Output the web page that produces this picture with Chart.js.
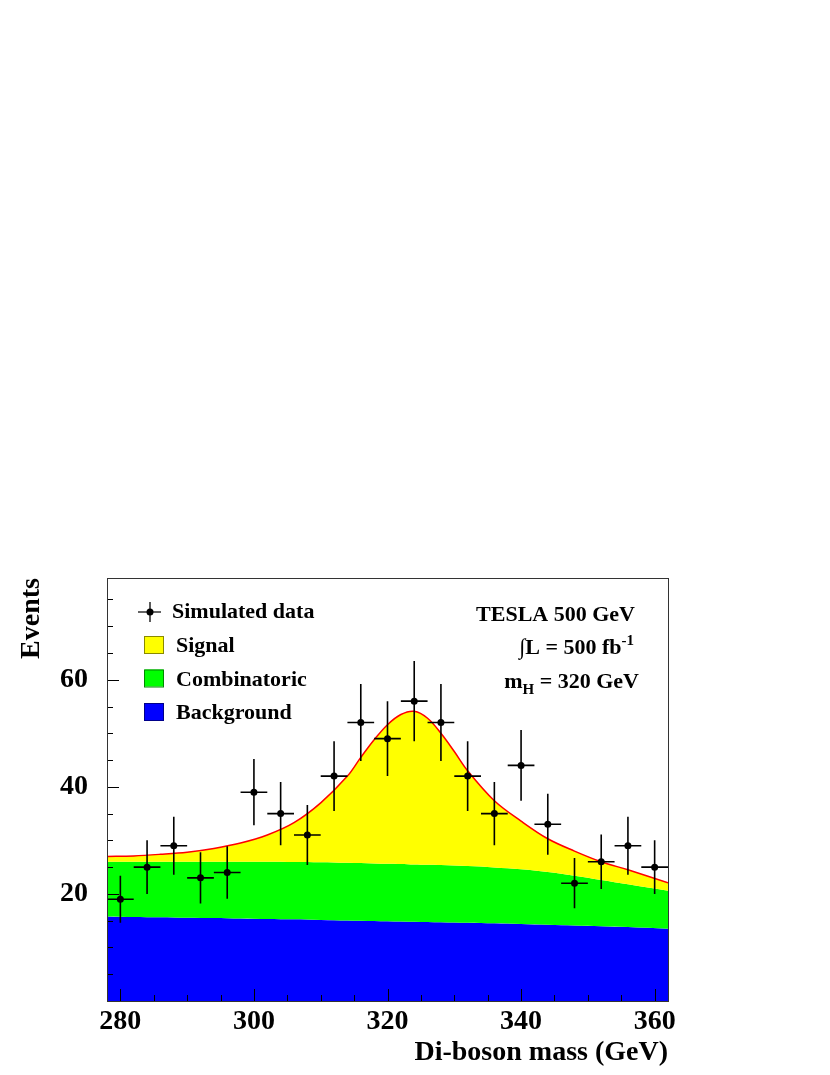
<!DOCTYPE html>
<html>
<head>
<meta charset="utf-8">
<script src="https://cdn.jsdelivr.net/npm/chart.js@4.4.1/dist/chart.umd.min.js"></script>
<style>
  html, body { margin: 0; padding: 0; background: #fff; }
  #wrap { position: relative; width: 830px; height: 1075px; }
</style>
</head>
<body>
<div id="wrap"><canvas id="chart"></canvas></div>
<script>
// curve grid (GeV) and stacked heights
const massGrid        = [278, 282, 286, 290, 294, 298, 302, 306, 310, 314, 316, 318, 320, 322, 324, 326, 328, 330, 332, 336, 340, 344, 348, 352, 356, 362];
const backgroundTop   = [15.8, 15.7, 15.65, 15.55, 15.5, 15.4, 15.3, 15.25, 15.15, 15.05, 15.0, 14.95, 14.9, 14.85, 14.8, 14.75, 14.7, 14.65, 14.6, 14.5, 14.4, 14.25, 14.1, 13.95, 13.8, 13.5];
const combinatoricTop = [26.0, 26.0, 26.0, 26.0, 26.0, 26.0, 26.0, 25.95, 25.9, 25.8, 25.75, 25.7, 25.65, 25.6, 25.5, 25.45, 25.4, 25.3, 25.2, 24.95, 24.6, 24.1, 23.4, 22.6, 21.8, 20.6];
const signalTop       = [27.0, 27.1, 27.4, 27.8, 28.5, 29.5, 31.0, 33.3, 37.0, 42.0, 45.5, 48.8, 51.6, 53.5, 54.1, 52.8, 50.0, 46.6, 43.0, 37.4, 33.6, 30.3, 28.0, 26.0, 24.5, 22.1];

// simulated data
const binCenters  = [280, 284, 288, 292, 296, 300, 304, 308, 312, 316, 320, 324, 328, 332, 336, 340, 344, 348, 352, 356, 360];
const eventCounts = [19, 25, 29, 23, 24, 39, 35, 31, 42, 52, 49, 56, 52, 42, 35, 44, 33, 22, 26, 29, 25];
const eventErrors = [4.4, 5.0, 5.4, 4.8, 4.9, 6.2, 5.9, 5.6, 6.5, 7.2, 7.0, 7.5, 7.2, 6.5, 5.9, 6.6, 5.7, 4.7, 5.1, 5.4, 5.0];
const binHalfWidth = 2;

const xTicks = [280, 300, 320, 340, 360];
const yTicks = [20, 40, 60];

const serif = '"Liberation Serif", "Times New Roman", serif';

const curve = (vals) => massGrid.map((m, i) => ({ x: m, y: vals[i] }));

const rootStyle = {
  id: 'rootStyle',
  beforeDatasetDraw(chart, args) {
    if (args.index !== 3) return;
    const ctx = chart.ctx, xs = chart.scales.x, ys = chart.scales.y;
    ctx.save();
    ctx.strokeStyle = '#000';
    ctx.lineWidth = 1.6;
    binCenters.forEach((m, i) => {
      const px = xs.getPixelForValue(m);
      const py = ys.getPixelForValue(eventCounts[i]);
      ctx.beginPath();
      ctx.moveTo(xs.getPixelForValue(m - binHalfWidth), py);
      ctx.lineTo(xs.getPixelForValue(m + binHalfWidth), py);
      ctx.moveTo(px, ys.getPixelForValue(eventCounts[i] + eventErrors[i]));
      ctx.lineTo(px, ys.getPixelForValue(eventCounts[i] - eventErrors[i]));
      ctx.stroke();
    });
    ctx.restore();
  },
  afterDraw(chart) {
    const ctx = chart.ctx, xs = chart.scales.x, ys = chart.scales.y;
    const a = chart.chartArea;
    ctx.save();
    // ticks (inside the frame)
    ctx.strokeStyle = '#000';
    ctx.lineWidth = 1;
    ctx.beginPath();
    for (let v = 5; v < ys.max; v += 5) {
      const py = Math.round(ys.getPixelForValue(v)) + 0.5;
      const len = yTicks.includes(v) ? 12 : 6;
      ctx.moveTo(a.left, py);
      ctx.lineTo(a.left + len, py);
    }
    for (let v = xTicks[0]; v <= xs.max; v += 5) {
      const px = Math.round(xs.getPixelForValue(v)) + 0.5;
      const len = xTicks.includes(v) ? 12 : 6;
      ctx.moveTo(px, a.bottom);
      ctx.lineTo(px, a.bottom - len);
    }
    ctx.stroke();
    // frame
    ctx.strokeStyle = '#333';
    ctx.strokeRect(Math.round(a.left) + 0.5, Math.round(a.top) + 0.5, Math.round(a.right - a.left), Math.round(a.bottom - a.top));

    // axis titles
    ctx.fillStyle = '#000';
    ctx.font = 'bold 28px ' + serif;
    ctx.textAlign = 'right';
    ctx.textBaseline = 'alphabetic';
    ctx.fillText('Di-boson mass (GeV)', a.right, 1060);
    ctx.save();
    ctx.translate(39, a.top);
    ctx.rotate(-Math.PI / 2);
    ctx.fillText('Events', 0, 0);
    ctx.restore();

    // legend
    ctx.font = 'bold 22px ' + serif;
    ctx.textAlign = 'left';
    ctx.lineWidth = 1.6;
    ctx.beginPath();
    ctx.moveTo(138, 612); ctx.lineTo(161, 612);
    ctx.moveTo(150, 602); ctx.lineTo(150, 622);
    ctx.stroke();
    ctx.beginPath();
    ctx.arc(150, 612, 3.5, 0, Math.PI * 2);
    ctx.fill();
    ctx.fillText('Simulated data', 172, 618);
    const swatches = [
      ['Signal', '#ffff00', '#8a8a00'],
      ['Combinatoric', '#00ff00', '#008a00'],
      ['Background', '#0000ff', '#00008a']
    ];
    swatches.forEach(([label, fill, edge], i) => {
      const y = 636 + i * 33.5;
      ctx.fillStyle = fill;
      ctx.fillRect(144.5, y, 19, 17);
      ctx.strokeStyle = edge;
      ctx.lineWidth = 1;
      ctx.strokeRect(144.5, y + 0.5, 19, 17);
      ctx.fillStyle = '#000';
      ctx.fillText(label, 176, y + 16);
    });

    // run info
    ctx.textAlign = 'right';
    ctx.fillText('TESLA 500 GeV', 635, 621);
    ctx.font = 'bold 15px ' + serif;
    const supW = ctx.measureText('-1').width;
    ctx.fillText('-1', 634, 645);
    ctx.font = 'bold 22px ' + serif;
    ctx.fillText('\u222BL = 500 fb', 634 - supW, 654);
    ctx.fillText(' = 320 GeV', 639, 688);
    const restW = ctx.measureText(' = 320 GeV').width;
    ctx.font = 'bold 15px ' + serif;
    const subW = ctx.measureText('H').width;
    ctx.fillText('H', 639 - restW, 694);
    ctx.font = 'bold 22px ' + serif;
    ctx.fillText('m', 639 - restW - subW, 688);
    ctx.restore();
  }
};

new Chart(document.getElementById('chart'), {
  type: 'line',
  data: {
    datasets: [
      { label: 'Background', order: 3, data: curve(backgroundTop), fill: 'origin', backgroundColor: '#0000ff', borderWidth: 0, pointRadius: 0, tension: 0.35 },
      { label: 'Combinatoric', order: 2, data: curve(combinatoricTop), fill: '-1', backgroundColor: '#00ff00', borderWidth: 0, pointRadius: 0, tension: 0.35 },
      { label: 'Signal', order: 1, data: curve(signalTop), fill: '-1', backgroundColor: '#ffff00', borderColor: '#ff0000', borderWidth: 1.5, pointRadius: 0, tension: 0.35 },
      { label: 'Simulated data', order: 0, type: 'scatter', data: binCenters.map((m, i) => ({ x: m, y: eventCounts[i] })), pointRadius: 3.5, pointBackgroundColor: '#000', pointBorderWidth: 0, showLine: false }
    ]
  },
  options: {
    responsive: true,
    maintainAspectRatio: false,
    animation: false,
    events: [],
    layout: { padding: { top: 578, right: 162, left: 0, bottom: 0 } },
    plugins: { legend: { display: false }, tooltip: { enabled: false } },
    scales: {
      x: {
        type: 'linear', min: 278, max: 362,
        grid: { display: false, drawTicks: false },
        border: { display: false },
        afterBuildTicks: (s) => { s.ticks = xTicks.map(v => ({ value: v })); },
        afterFit: (s) => { s.height = 74; },
        ticks: { color: '#000', padding: 4, font: { family: serif, size: 28, weight: 'bold' } }
      },
      y: {
        type: 'linear', min: 0, max: 79,
        grid: { display: false, drawTicks: false },
        border: { display: false },
        afterBuildTicks: (s) => { s.ticks = yTicks.map(v => ({ value: v })); },
        afterFit: (s) => { s.width = 107; },
        ticks: { color: '#000', padding: 19, font: { family: serif, size: 28, weight: 'bold' } }
      }
    }
  },
  plugins: [rootStyle]
});
</script>
</body>
</html>
